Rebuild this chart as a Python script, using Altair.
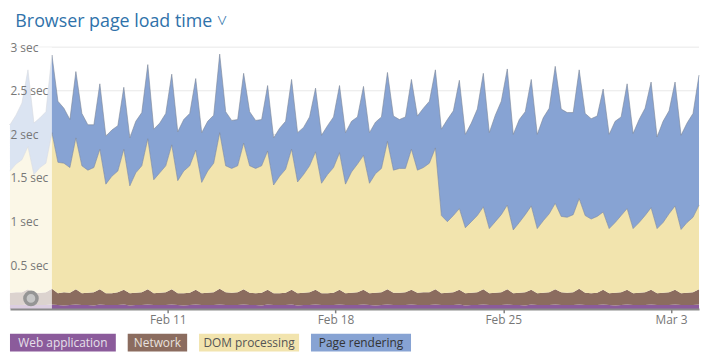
import altair as alt
import pandas as pd

# ---- data (seconds, cumulative tops of each stacked band) ----
START = "2024-02-04 10:00"
N_POINTS = 116
dates = [d.strftime("%Y-%m-%dT%H:%M:%S") for d in pd.date_range(START, periods=N_POINTS, freq="6h")]

page_rendering_top = [
    2.11, 2.22, 2.36, 2.74,  2.13, 2.19, 2.26, 2.91,  2.38, 2.30, 2.17, 2.72,
    2.24, 2.11, 2.11, 2.58,  1.98, 2.05, 2.10, 2.54,  1.96, 2.15, 2.25, 2.80,
    2.06, 2.13, 2.24, 2.69,  2.03, 2.17, 2.24, 2.64,  2.02, 2.15, 2.22, 2.92,
    2.26, 2.16, 2.17, 2.70,  2.26, 2.16, 2.17, 2.56,  1.96, 2.07, 2.15, 2.63,
    2.02, 2.08, 2.20, 2.53,  1.99, 2.10, 2.20, 2.56,  2.02, 2.15, 2.20, 2.55,
    2.02, 2.14, 2.20, 2.71,  2.21, 2.17, 2.20, 2.63,  2.21, 2.30, 2.38, 2.74,
    2.06, 2.17, 2.27, 2.62,  2.00, 2.13, 2.29, 2.70,  2.02, 2.22, 2.38, 2.75,
    2.00, 2.17, 2.26, 2.63,  2.00, 2.19, 2.30, 2.78,  2.29, 2.25, 2.25, 2.74,
    2.24, 2.18, 2.21, 2.52,  2.00, 2.15, 2.20, 2.58,  2.01, 2.17, 2.30, 2.60,
    1.97, 2.15, 2.27, 2.60,  1.99, 2.13, 2.24, 2.68,
]
dom_processing_top = [
    1.58, 1.66, 1.71, 1.86,  1.54, 1.62, 1.67, 2.02,  1.68, 1.67, 1.62, 1.96,
    1.64, 1.59, 1.62, 1.83,  1.43, 1.52, 1.58, 1.83,  1.41, 1.56, 1.64, 1.95,
    1.48, 1.56, 1.64, 1.88,  1.47, 1.58, 1.64, 1.82,  1.45, 1.58, 1.67, 2.02,
    1.64, 1.61, 1.64, 1.90,  1.64, 1.61, 1.64, 1.81,  1.42, 1.52, 1.60, 1.83,
    1.455, 1.54, 1.64, 1.80, 1.44, 1.54, 1.62, 1.79,  1.43, 1.57, 1.66, 1.76,
    1.44, 1.55, 1.61, 1.92,  1.59, 1.61, 1.61, 1.83,  1.59, 1.62, 1.67, 1.845,
    1.07, 1.00, 1.07, 1.15,  0.93, 1.00, 1.07, 1.17,  0.92, 1.00, 1.08, 1.19,
    0.905, 0.99, 1.08, 1.18, 0.92, 1.01, 1.09, 1.21,  1.06, 1.05, 1.08, 1.265,
    1.07, 1.03, 1.06, 1.11,  0.92, 0.99, 1.07, 1.15,  0.92, 0.99, 1.07, 1.16,
    0.92, 0.99, 1.09, 1.18,  0.91, 0.99, 1.05, 1.19,
]
network_top = [
    0.185, 0.19, 0.19, 0.225,  0.18, 0.185, 0.19, 0.23,  0.18, 0.19, 0.185, 0.225,
    0.18, 0.185, 0.19, 0.225,  0.18, 0.18, 0.19, 0.22,   0.18, 0.185, 0.19, 0.225,
    0.18, 0.185, 0.19, 0.225,  0.18, 0.18, 0.185, 0.22,  0.18, 0.185, 0.19, 0.23,
    0.19, 0.185, 0.19, 0.225,  0.185, 0.18, 0.185, 0.22, 0.18, 0.18, 0.185, 0.22,
    0.18, 0.185, 0.19, 0.22,   0.18, 0.18, 0.185, 0.22,  0.18, 0.185, 0.19, 0.22,
    0.18, 0.185, 0.19, 0.225,  0.185, 0.185, 0.19, 0.22, 0.185, 0.19, 0.19, 0.225,
    0.18, 0.185, 0.19, 0.22,   0.18, 0.185, 0.19, 0.225, 0.18, 0.185, 0.19, 0.225,
    0.18, 0.185, 0.19, 0.22,   0.18, 0.185, 0.19, 0.225, 0.19, 0.185, 0.19, 0.23,
    0.185, 0.18, 0.185, 0.22,  0.18, 0.185, 0.19, 0.22,  0.18, 0.185, 0.19, 0.22,
    0.18, 0.185, 0.19, 0.22,   0.18, 0.185, 0.19, 0.225,
]
web_application_top = [
    0.045, 0.045, 0.045, 0.05,  0.045, 0.045, 0.045, 0.05,  0.045, 0.04, 0.045, 0.05,
    0.045, 0.045, 0.04, 0.05,   0.045, 0.045, 0.045, 0.05,  0.04, 0.045, 0.045, 0.05,
    0.045, 0.045, 0.045, 0.05,  0.045, 0.04, 0.045, 0.05,   0.045, 0.045, 0.045, 0.05,
    0.045, 0.045, 0.045, 0.05,  0.045, 0.045, 0.04, 0.05,   0.045, 0.045, 0.045, 0.05,
    0.04, 0.045, 0.045, 0.05,   0.045, 0.045, 0.045, 0.05,  0.045, 0.045, 0.045, 0.05,
    0.045, 0.04, 0.045, 0.05,   0.045, 0.045, 0.045, 0.05,  0.045, 0.045, 0.045, 0.05,
    0.045, 0.045, 0.045, 0.05,  0.04, 0.045, 0.045, 0.05,   0.045, 0.045, 0.045, 0.05,
    0.045, 0.045, 0.04, 0.05,   0.045, 0.045, 0.045, 0.05,  0.045, 0.045, 0.045, 0.05,
    0.045, 0.045, 0.045, 0.05,  0.045, 0.04, 0.045, 0.05,   0.045, 0.045, 0.045, 0.05,
    0.045, 0.045, 0.045, 0.05,  0.045, 0.045, 0.045, 0.05,
]

SERIES = ["Web application", "Network", "DOM processing", "Page rendering"]
COLORS = ["#8b5b9b", "#8b6c5f", "#f2e4ae", "#87a3d3"]
TEXT_COLORS = ["#e6e0ea", "#e8e2de", "#555555", "#333333"]
Y_TICKS = [0.5, 1, 1.5, 2, 2.5, 3]
Y_MAX = 3
FADED_UNTIL_INDEX = 7          # the greyed-out (out of range) leading part
ICON_DATE = "2024-02-05T07:00:00"
ICON_VALUE = 0.12

# ---- build long table ----
zeros = [0.0] * N_POINTS
lows = [zeros, web_application_top, network_top, dom_processing_top]
highs = [web_application_top, network_top, dom_processing_top, page_rendering_top]
rows = []
for s, lo_arr, hi_arr in zip(SERIES, lows, highs):
    for d, lo, hi in zip(dates, lo_arr, hi_arr):
        rows.append({"date": d, "series": s, "lo": lo, "hi": hi})
df = pd.DataFrame(rows)

FONT = "Open Sans"
W, H = 695, 264

xscale = alt.Scale(nice=False)
yscale = alt.Scale(domain=[0, Y_MAX], nice=False)
y_axis = alt.Axis(values=Y_TICKS, labelExpr="datum.value + ' sec'", orient="left",
                  ticks=False, domain=False, grid=False, labelAlign="left",
                  labelBaseline="middle", labelPadding=0, labelColor="#777777",
                  labelFontSize=12, labelFont=FONT, title=None, zindex=1)
x_axis = alt.Axis(format="%b %-d", tickCount={"interval": "week", "step": 1},
                  grid=False, domainColor="#8a8a8a", domainWidth=2, tickColor="#808080",
                  tickSize=4, tickWidth=1.5, labelColor="#777777", labelFontSize=12,
                  labelFont=FONT, labelPadding=2, title=None, zindex=1)

grid = alt.Chart(pd.DataFrame({"v": Y_TICKS})).mark_rule(color="#e8e8e8", strokeWidth=1).encode(
    y=alt.Y("v:Q", scale=yscale, axis=y_axis)
)

areas = alt.Chart(df).mark_area(interpolate="linear").encode(
    x=alt.X("date:T", scale=xscale, axis=x_axis),
    y=alt.Y("hi:Q", scale=yscale, axis=y_axis),
    y2="lo:Q",
    color=alt.Color("series:N", scale=alt.Scale(domain=SERIES, range=COLORS), legend=None),
)

edges = alt.Chart(df[df.series.isin(["DOM processing", "Page rendering"])]).mark_line(
    interpolate="linear", color="#7c8597", strokeWidth=0.8, opacity=0.75
).encode(
    x=alt.X("date:T", scale=xscale, axis=x_axis),
    y=alt.Y("hi:Q", scale=yscale, axis=y_axis),
    detail="series:N",
)

faded = alt.Chart(pd.DataFrame({
    "start": [dates[0]], "end": [dates[FADED_UNTIL_INDEX]], "lo": [0], "hi": [Y_MAX]
})).mark_rect(color="white", opacity=0.7).encode(
    x=alt.X("start:T", scale=xscale, axis=x_axis),
    x2="end:T",
    y=alt.Y("lo:Q", scale=yscale, axis=y_axis),
    y2="hi:Q",
)

icon = alt.Chart(pd.DataFrame({"date": [ICON_DATE], "v": [ICON_VALUE]})).mark_point(
    shape="circle", size=150, strokeWidth=3.5, stroke="#959595", fill="#c6c6c6",
    fillOpacity=1, opacity=1
).encode(
    x=alt.X("date:T", scale=xscale, axis=x_axis),
    y=alt.Y("v:Q", scale=yscale, axis=y_axis),
)

main = alt.layer(grid, areas, edges, faded, icon).properties(width=W, height=H)

# ---- custom legend (boxes sized from label length) ----
CHAR_W, PAD, GAP = 5.85, 19, 12
leg_rows = []
x = 0.0
for s, c, tc in zip(SERIES, COLORS, TEXT_COLORS):
    w = len(s) * CHAR_W + PAD
    leg_rows.append({"series": s, "x0": x, "x1": x + w, "xc": x + w / 2, "tc": tc})
    x += w + GAP
leg_df = pd.DataFrame(leg_rows)

leg_boxes = alt.Chart(leg_df).mark_rect().encode(
    x=alt.X("x0:Q", scale=None), x2="x1:Q",
    y=alt.value(0), y2=alt.value(18),
    color=alt.Color("series:N", scale=alt.Scale(domain=SERIES, range=COLORS), legend=None),
)
leg_text = alt.Chart(leg_df).mark_text(font=FONT, fontSize=12, align="center", baseline="middle").encode(
    x=alt.X("xc:Q", scale=None), y=alt.value(9.5), text="series:N",
    color=alt.Color("tc:N", scale=None),
)
legend = alt.layer(leg_boxes, leg_text).properties(width=W, height=18)

chart = alt.vconcat(main, legend, spacing=8).properties(
    title=alt.TitleParams("Browser page load time  ˅", anchor="start", fontSize=18, font=FONT,
                          fontWeight="normal", color="#2f72aa", dx=7, offset=10),
    padding={"left": 0, "top": 4, "right": 0, "bottom": 0},
).configure_view(stroke=None)

chart.save("out.html", embed_options={"renderer": "svg", "actions": False})
